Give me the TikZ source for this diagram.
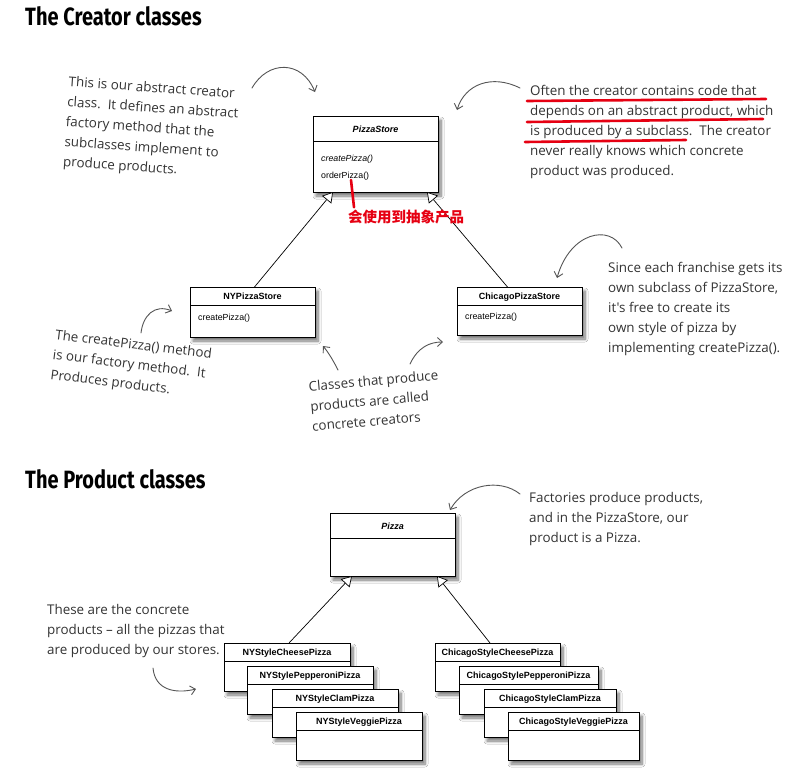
\documentclass[tikz,border=0pt]{standalone}
\usepackage{fontspec}
\setmainfont{Liberation Sans}
\newfontfamily\handfont{Open Sans}
\newfontfamily\titlefont{Fira Sans}
\newfontfamily\cjkfont{Noto Sans CJK SC}
\usetikzlibrary{arrows.meta,shadows.blur,calc}
\definecolor{ink}{HTML}{333333}
\definecolor{arrowink}{HTML}{555555}
\definecolor{marker}{HTML}{E60012}
\newcommand\umlclass[7]{%
  \node[umlbox, minimum width=#4, minimum height=#5] (#1) at (#2,#3) {};
  \draw[divider] ($(#1.north west)+(0,#6)$) -- ($(#1.north east)+(0,#6)$);
  \node[hdr] (#1-t) at ($(#1.north)+(0,#6*0.5+3.5)$) {#7};
}
\begin{document}
\begin{tikzpicture}[x=1pt,y=-1pt,
  umlbox/.style={draw=black, line width=0.6pt, fill=white, inner sep=0, outer sep=0, anchor=north west,
    blur shadow={shadow xshift=3pt, shadow yshift=-4pt, shadow blur steps=8, shadow blur radius=3pt, shadow opacity=55}},
  divider/.style={draw=black, line width=0.6pt},
  hdr/.style={font=\bfseries\fontsize{9}{10}\selectfont, anchor=base, inner sep=0},
  meth/.style={font=\fontsize{8.8}{10}\selectfont, anchor=base west, inner sep=0},
  hand/.style={font=\handfont\fontsize{13.4}{20}\selectfont, align=left, inner sep=0, anchor=north west, text=ink},
  htitle/.style={font=\titlefont\bfseries\fontsize{25}{28}\selectfont, inner sep=0, anchor=base west},
  inh/.style={draw=black, line width=0.7pt, -{Triangle[length=10pt, width=12pt, fill=white]}},
  harrow/.style={draw=arrowink, line width=0.9pt, line cap=round, -{Straight Barb[length=5pt, width=9pt]}},
  redline/.style={draw=marker, line width=2.6pt, line cap=round}
]
\useasboundingbox[fill=white] (0,0) rectangle (802,774);

% ---------- Titles ----------
\node[htitle] (t1) at (25,25) {\scalebox{0.8}[1]{The Creator classes}};
\node[htitle] (t2) at (25,488) {\scalebox{0.8}[1]{The Product classes}};

% ---------- Creator classes ----------
\umlclass{ps}{313}{116}{125}{76}{25}{\itshape PizzaStore}
\node[meth, font=\itshape\fontsize{8.8}{10}\selectfont] (ps-m1) at (321,161) {createPizza()};
\node[meth] (ps-m2) at (321,178) {orderPizza()};

\umlclass{ny}{190}{287}{125}{50}{18}{NYPizzaStore}
\node[meth] (ny-m1) at (198,320) {createPizza()};

\umlclass{ch}{457}{287}{125}{48}{18}{ChicagoPizzaStore}
\node[meth] (ch-m1) at (465,319) {createPizza()};

\draw[inh] ($(ny.north)+(2,0)$) -- ($(ps.south west)+(20,0)$);
\draw[inh] ($(ch.north)+(-12,0)$) -- ($(ps.south east)+(-11,0)$);

% red remark
\node[font=\cjkfont\bfseries\fontsize{14.5}{16}\selectfont, text=marker, anchor=base west, inner sep=0] (cn) at (348,222) {会使用到抽象产品};
\coordinate (redstart) at (351,180);
\draw[redline] (redstart) -- ($(cn.north west)+(6,-2)$);

% ---------- Annotations (creator) ----------
\node[hand, rotate=-4] (a1) at (69,76) {This is our abstract creator\\class.\ \ It defines an abstract\\factory method that the\\subclasses implement to\\produce products.};
\coordinate (a1e) at (315,92);
\draw[harrow] (252,88) .. controls (268,60) and (302,60) .. (a1e);

\node[hand] (a2) at (530,85) {Often the creator contains code that\\depends on an abstract product, which\\is produced by a subclass.\ \ The creator\\never really knows which concrete\\product was produced.};
\coordinate (u1a) at (527,101); \coordinate (u1b) at (766,99);
\coordinate (u2a) at (527,122); \coordinate (u2b) at (763,119);
\coordinate (u3a) at (525,142); \coordinate (u3b) at (686,140);
\draw[redline] (u1a) -- (u1b);
\draw[redline] (u2a) -- (u2b);
\draw[redline] (u3a) -- (u3b);
\coordinate (a2e) at (457,110);
\draw[harrow] ($(a2.north west)+(-10,3)$) .. controls (492,74) and (465,84) .. (a2e);

\node[hand] (a3) at (608,262) {Since each franchise gets its\\own subclass of PizzaStore,\\it's free to create its\\own style of pizza by\\implementing createPizza().};
\coordinate (a3e) at (557,278);
\draw[harrow] ($(a3.north west)+(14,-14)$) .. controls (610,224) and (570,232) .. (a3e);

\node[hand, rotate=-7] (a4) at (56,329) {The createPizza() method\\is our factory method.\ \ It\\Produces products.};
\coordinate (a4s) at (141,333);
\coordinate (a4e) at (172,311);
\draw[harrow] (a4s) .. controls (143,315) and (155,304) .. (a4e);

\node[hand, rotate=5] (a5) at (308,381) {Classes that produce\\products are called\\concrete creators};
\coordinate (a5s) at (338,370); \coordinate (a5e) at (323,346);
\draw[harrow] (a5s) .. controls (333,360) and (328,352) .. (a5e);
\coordinate (a5s2) at (410,364); \coordinate (a5e2) at (443,342);
\draw[harrow] (a5s2) .. controls (418,347) and (430,342) .. (a5e2);

% ---------- Product classes ----------
\umlclass{pz}{330}{513}{125}{63}{25}{\itshape Pizza}

\umlclass{ny1}{224}{643}{126}{48}{18}{NYStyleCheesePizza}
\umlclass{ny2}{247}{666}{126}{48}{18}{NYStylePepperoniPizza}
\umlclass{ny3}{272}{689}{126}{48}{18}{NYStyleClamPizza}
\umlclass{ny4}{296}{712}{126}{48}{18}{NYStyleVeggiePizza}

\umlclass{cg1}{435}{643}{125}{48}{18}{ChicagoStyleCheesePizza}
\umlclass{cg2}{459}{666}{139}{48}{18}{ChicagoStylePepperoniPizza}
\umlclass{cg3}{484}{689}{132}{48}{18}{ChicagoStyleClamPizza}
\umlclass{cg4}{508}{712}{131}{48}{18}{ChicagoStyleVeggiePizza}

\draw[inh] ($(ny1.north west)+(65,0)$) -- ($(pz.south west)+(22,0)$);
\draw[inh] ($(cg1.north west)+(55,0)$) -- ($(pz.south east)+(-18,0)$);

\node[hand] (a6) at (529,492) {Factories produce products,\\and in the PizzaStore, our\\product is a Pizza.};
\coordinate (a6e) at (450,510);
\draw[harrow] ($(a6.north west)+(-9,2)$) .. controls (500,478) and (465,484) .. (a6e);

\node[hand] (a7) at (47,604) {These are the concrete\\products – all the pizzas that\\are produced by our stores.};
\coordinate (a7s) at (153,668); \coordinate (a7e) at (196,689);
\draw[harrow] (a7s) .. controls (155,690) and (175,694) .. (a7e);
\end{tikzpicture}
\end{document}
